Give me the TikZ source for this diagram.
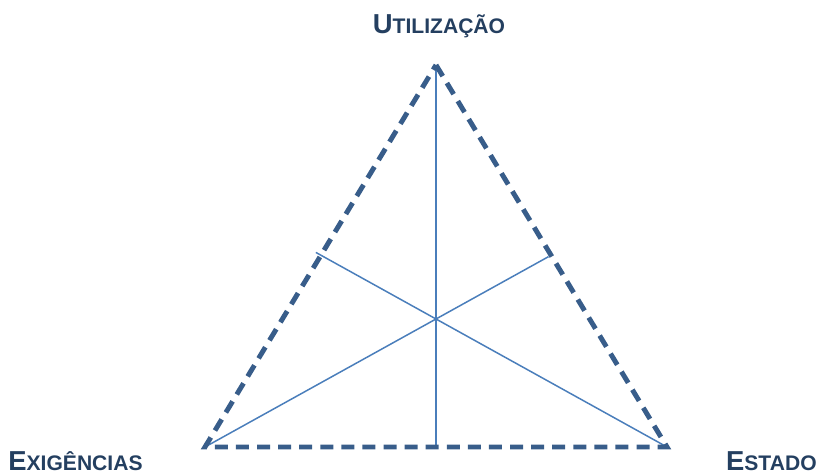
\documentclass[tikz,border=0pt]{standalone}
\usepackage{fontspec}
\setmainfont{Liberation Sans}
\usetikzlibrary{calc,positioning}
\definecolor{edgeblue}{HTML}{385D8A}
\definecolor{lineblue}{HTML}{4A7EBB}
\definecolor{labelnavy}{HTML}{243F60}
\newcommand{\capword}[2]{{\fontsize{15.6}{15.6}\selectfont #1}{\fontsize{12}{12}\selectfont #2}}
\tikzset{
  edge/.style={line width=2.8pt, edgeblue, dash pattern=on 7.4pt off 4.6pt, line join=miter},
  median/.style={line width=0.85pt, lineblue},
  corner label/.style={inner sep=0pt, anchor=base, text=labelnavy, font=\bfseries},
}

\begin{document}
\begin{tikzpicture}[x=0.02cm, y=-0.02cm]
  \useasboundingbox (0,0) rectangle (819,475);

  % Vertices and centre
  \coordinate (U) at (436,65);
  \coordinate (X) at (205,447);
  \coordinate (S) at (667,447);
  \coordinate (G) at (436,319);

  % Feet of the three lines
  \coordinate (Ufoot) at (436,447);
  \coordinate (Xfoot) at ($(X)!1.487!(G)$);
  \coordinate (Sfoot) at ($(S)!1.52!(G)$);

  % Inner lines
  \draw[median] (U) -- (Ufoot);
  \draw[median] (X) -- (Xfoot);
  \draw[median] (S) -- (Sfoot);

  % Dashed triangle
  \draw[edge] (U) -- (S) -- (X) -- cycle;

  % Labels
  \node[corner label] (utilizacao) at (439,34) {\capword{U}{TILIZAÇÃO}};
  \node[corner label, anchor=base west] (exigencias) at (8,471) {\capword{E}{XIGÊNCIAS}};
  \node[corner label, anchor=base east] (estado) at (817,471) {\capword{E}{STADO}};
\end{tikzpicture}
\end{document}
